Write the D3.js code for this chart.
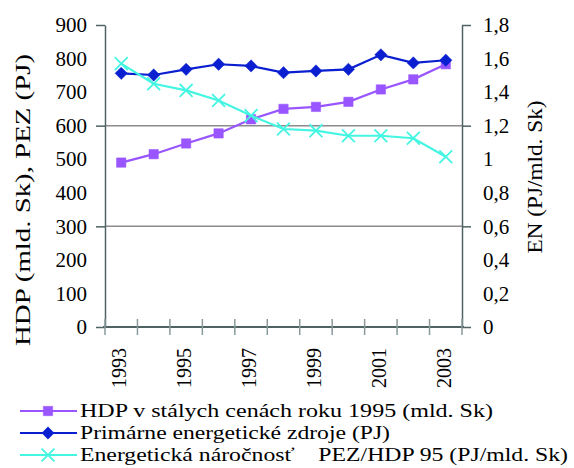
<!DOCTYPE html>
<html>
<head>
<meta charset="utf-8">
<script src="https://cdn.jsdelivr.net/npm/d3@7"></script>
<style>
  body { margin: 0; background: #fff; }
</style>
</head>
<body>
<div id="chart"></div>
<script>
const years = ['1993', '1994', '1995', '1996', '1997', '1998', '1999', '2000', '2001', '2002', '2003']
const hdp = [490, 515, 547, 577, 619, 650, 656, 671, 708, 738, 783]
const pez = [756, 751, 768, 783, 778, 758, 763, 768, 811, 787, 795]
const en = [1.57, 1.45, 1.41, 1.35, 1.26, 1.18, 1.17, 1.14, 1.14, 1.125, 1.015]
const leftTicks = [0, 100, 200, 300, 400, 500, 600, 700, 800, 900]
const rightTicks = [0, 0.2, 0.4, 0.6, 0.8, 1, 1.2, 1.4, 1.6, 1.8]
const labelYears = ['1993', '1995', '1997', '1999', '2001', '2003']
const legendLabels = [
  'HDP v stálych cenách roku 1995 (mld. Sk)',
  'Primárne energetické zdroje (PJ)',
  'Energetická náročnosť    PEZ/HDP 95 (PJ/mld. Sk)'
]

const width = 574
const height = 468
const plot = { left: 105, right: 462, top: 25, bottom: 327 }
const axisColor = '#4f6363'
const colors = ['#9955ff', '#0a1fd0', '#44f5e2']
const font = "'Liberation Serif', 'Times New Roman', serif"

const svg = d3.select('#chart').append('svg')
  .attr('width', width)
  .attr('height', height)
  .attr('font-family', font)

const x = d3.scaleBand().domain(years).range([plot.left, plot.right]).padding(0)
const yLeft = d3.scaleLinear().domain([0, 900]).range([plot.bottom, plot.top])
const yRight = d3.scaleLinear().domain([0, 1.8]).range([plot.bottom, plot.top])
const cx = d => x(d) + x.bandwidth() / 2

const comma = d3.formatLocale({ decimal: ',', thousands: ' ', grouping: [3], currency: ['', ''] }).format('~g')

// gridlines at major units
svg.append('g')
  .selectAll('line')
  .data([300, 600])
  .join('line')
  .attr('x1', plot.left).attr('x2', plot.right)
  .attr('y1', d => yLeft(d)).attr('y2', d => yLeft(d))
  .attr('stroke', '#8c8c8c')
  .attr('stroke-width', 1.5)

// left axis
const gl = svg.append('g')
  .attr('transform', `translate(${plot.left},0)`)
  .call(d3.axisLeft(yLeft).tickValues(leftTicks).tickSize(0).tickPadding(18).tickFormat(d3.format('d')))
  .attr('font-family', font)
gl.select('.domain').attr('stroke', axisColor).attr('stroke-width', 1.5)
gl.selectAll('.tick line')
  .attr('x2', d => d % 300 === 0 ? -9 : 0)
  .attr('stroke', axisColor).attr('stroke-width', 1.5)
gl.selectAll('.tick text').attr('font-size', 21).attr('fill', '#000')

// right axis
const gr = svg.append('g')
  .attr('transform', `translate(${plot.right},0)`)
  .call(d3.axisRight(yRight).tickValues(rightTicks).tickSize(0).tickPadding(21).tickFormat(comma))
  .attr('font-family', font)
gr.select('.domain').attr('stroke', axisColor).attr('stroke-width', 1.5)
gr.selectAll('.tick line')
  .attr('x2', (d, i) => i % 3 === 0 ? 9 : 0)
  .attr('stroke', axisColor).attr('stroke-width', 1.5)
gr.selectAll('.tick text').attr('font-size', 21).attr('fill', '#000')

// x axis
svg.append('line')
  .attr('x1', plot.left - 2).attr('x2', plot.right + 2)
  .attr('y1', plot.bottom).attr('y2', plot.bottom)
  .attr('stroke', axisColor).attr('stroke-width', 1.8)
svg.append('g')
  .selectAll('line')
  .data(years.concat(['end']))
  .join('line')
  .attr('x1', (d, i) => i < years.length ? x(d) : plot.right)
  .attr('x2', (d, i) => i < years.length ? x(d) : plot.right)
  .attr('y1', plot.bottom - 8).attr('y2', plot.bottom + 8)
  .attr('stroke', '#8a9a9a').attr('stroke-width', 1.5)
svg.append('g')
  .selectAll('text')
  .data(labelYears)
  .join('text')
  .attr('transform', d => `translate(${cx(d) + 5},${plot.bottom + 21}) rotate(-90)`)
  .attr('text-anchor', 'end')
  .attr('font-size', 20)
  .text(d => d)

// axis titles
svg.append('text')
  .attr('transform', `translate(30,200) rotate(-90)`)
  .attr('text-anchor', 'middle')
  .attr('font-size', 20)
  .attr('textLength', 292)
  .attr('lengthAdjust', 'spacingAndGlyphs')
  .text('HDP (mld. Sk), PEZ (PJ)')
svg.append('text')
  .attr('transform', `translate(542,177) rotate(-90)`)
  .attr('text-anchor', 'middle')
  .attr('font-size', 20)
  .attr('textLength', 153)
  .attr('lengthAdjust', 'spacingAndGlyphs')
  .text('EN (PJ/mld. Sk)')

// markers
const symSquare = d3.symbol().type(d3.symbolSquare).size(88)
const diamond = {
  draw (ctx, size) {
    const r = Math.sqrt(size / 2)
    ctx.moveTo(0, -r); ctx.lineTo(r, 0); ctx.lineTo(0, r); ctx.lineTo(-r, 0); ctx.closePath()
  }
}
const symDiamond = d3.symbol().type(diamond).size(76)
const symCross = d3.symbol().type(d3.symbolX).size(110)

const series = [
  { values: hdp, y: yLeft, color: colors[0], sym: symSquare, kind: 'fill' },
  { values: pez, y: yLeft, color: colors[1], sym: symDiamond, kind: 'fill' },
  { values: en, y: yRight, color: colors[2], sym: symCross, kind: 'stroke' }
]

series.forEach(s => {
  const line = d3.line().x((d, i) => cx(years[i])).y(d => s.y(d))
  svg.append('path')
    .datum(s.values)
    .attr('d', line)
    .attr('fill', 'none')
    .attr('stroke', s.color)
    .attr('stroke-width', 2.2)
  svg.append('g')
    .selectAll('path')
    .data(s.values)
    .join('path')
    .attr('transform', (d, i) => `translate(${cx(years[i])},${s.y(d)})`)
    .attr('d', s.sym())
    .attr('fill', s.kind === 'fill' ? s.color : 'none')
    .attr('stroke', s.color)
    .attr('stroke-width', s.kind === 'fill' ? 0.5 : 1.8)
})

// legend
const legendWidths = [413, 310, 488]
const legend = svg.append('g')
legendLabels.forEach((label, i) => {
  const ly = 411 + i * 22
  const s = series[i]
  legend.append('line')
    .attr('x1', 20).attr('x2', 77)
    .attr('y1', ly).attr('y2', ly)
    .attr('stroke', s.color).attr('stroke-width', 2.2)
  legend.append('path')
    .attr('transform', `translate(48,${ly})`)
    .attr('d', s.sym())
    .attr('fill', s.kind === 'fill' ? s.color : 'none')
    .attr('stroke', s.color)
    .attr('stroke-width', s.kind === 'fill' ? 0.5 : 1.8)
  legend.append('text')
    .attr('x', 80).attr('y', ly + 6)
    .attr('font-size', 19)
    .attr('textLength', legendWidths[i])
    .attr('lengthAdjust', 'spacingAndGlyphs')
    .style('white-space', 'pre')
    .text(label)
})
</script>
</body>
</html>
